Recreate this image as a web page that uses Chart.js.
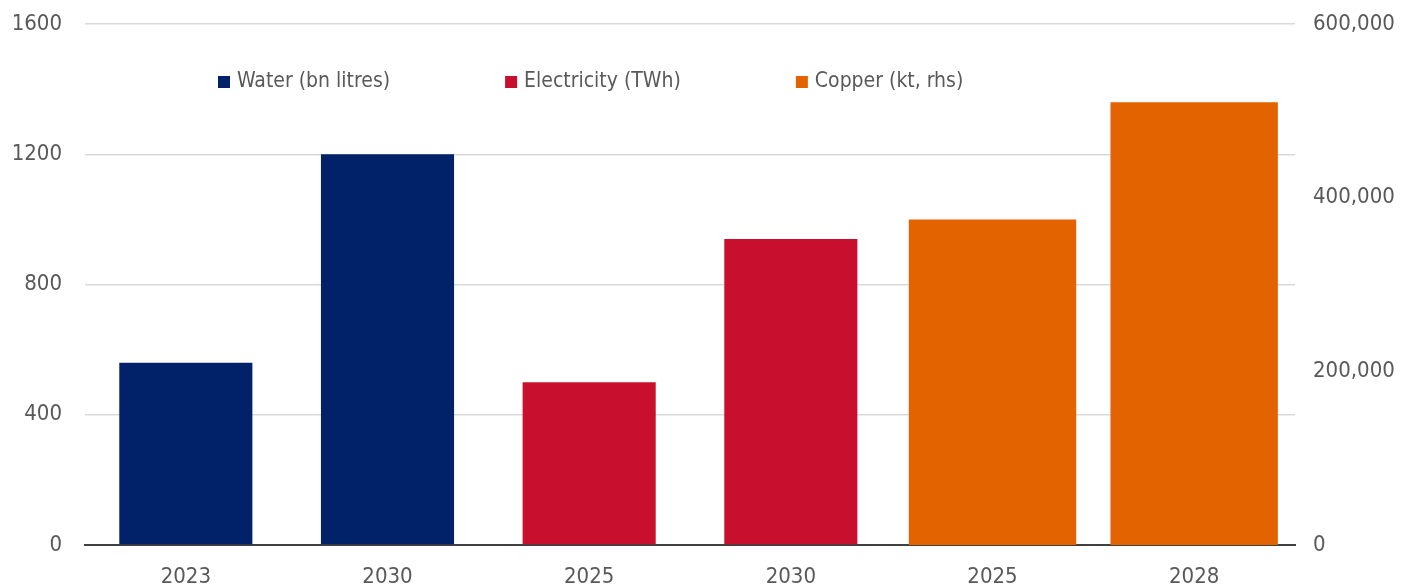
<!DOCTYPE html>
<html>
<head>
<meta charset="utf-8">
<script src="https://cdn.jsdelivr.net/npm/chart.js@4/dist/chart.umd.min.js"></script>
<style>
  html, body { margin: 0; padding: 0; background: #fff; }
  #wrap { width: 1408px; height: 586px; }
</style>
</head>
<body>
<div id="wrap"><canvas id="myChart" width="1408" height="586"></canvas></div>
<script>
var labels = ['2023', '2030', '2025', '2030', '2025', '2028'];
var water = [560, 1200, null, null, null, null];
var electricity = [null, null, 500, 940, null, null];
var copper = [null, null, null, null, 375000, 510000];

var seriesNames = ['Water (bn litres)', 'Electricity (TWh)', 'Copper (kt, rhs)'];
var seriesColors = ['#012169', '#C8102E', '#E36300'];

var fontFamily = '"DejaVu Sans Condensed", "Liberation Sans", sans-serif';
var textColor = '#595959';

// legend drawn inside the plot area, one row under the top gridline
var insideLegend = {
    id: 'insideLegend',
    afterDraw: function(chart) {
        var ctx = chart.ctx;
        var area = chart.chartArea;
        var x = area.left + 133;
        var y = area.top + 58;
        ctx.save();
        ctx.font = '21px ' + fontFamily;
        ctx.textBaseline = 'middle';
        ctx.textAlign = 'left';
        chart.data.datasets.forEach(function(ds) {
            ctx.fillStyle = ds.backgroundColor;
            ctx.fillRect(x, y - 6, 12, 12);
            ctx.fillStyle = textColor;
            ctx.fillText(ds.label, x + 19, y);
            x += 19 + ctx.measureText(ds.label).width + 115;
        });
        ctx.restore();
    }
};

// fixed axis widths; drop the label overhang so the plot starts at the layout padding
function fitSide(width) {
    return function(scale) {
        scale.width = width;
        scale.paddingTop = 0;
        scale.paddingBottom = 0;
    };
}

function showChart() {
    var data = {
        labels: labels,
        datasets: [{
            label: seriesNames[0],
            data: water,
            backgroundColor: seriesColors[0],
            yAxisID: 'y',
            skipNull: true,
            barPercentage: 0.66,
            categoryPercentage: 1
        }, {
            label: seriesNames[1],
            data: electricity,
            backgroundColor: seriesColors[1],
            yAxisID: 'y',
            skipNull: true,
            barPercentage: 0.66,
            categoryPercentage: 1
        }, {
            label: seriesNames[2],
            data: copper,
            backgroundColor: seriesColors[2],
            yAxisID: 'y1',
            skipNull: true,
            barPercentage: 0.83,
            categoryPercentage: 1
        }]
    };
    var options = {
        responsive: false,
        animation: false,
        layout: { padding: { top: 24, bottom: 0, left: 0, right: 0 } },
        plugins: {
            legend: { display: false },
            tooltip: { enabled: false }
        },
        scales: {
            x: {
                grid: { display: false, drawTicks: false },
                border: { display: true, color: '#404040', width: 2 },
                ticks: { color: textColor, padding: 19, font: { family: fontFamily, size: 22 } },
                afterFit: function(scale) { scale.height = 41; }
            },
            y: {
                position: 'left',
                min: 0,
                max: 1600,
                grid: { color: '#d9d9d9', lineWidth: 1.5, drawTicks: false },
                border: { display: false },
                ticks: {
                    stepSize: 400,
                    padding: 23,
                    color: textColor,
                    font: { family: fontFamily, size: 22 },
                    callback: function(v) { return String(v); }
                },
                afterFit: fitSide(85)
            },
            y1: {
                position: 'right',
                min: 0,
                max: 600000,
                grid: { display: false, drawTicks: false },
                border: { display: false },
                ticks: {
                    stepSize: 200000,
                    padding: 18,
                    color: textColor,
                    font: { family: fontFamily, size: 22 },
                    callback: function(v) { return v.toLocaleString('en-US'); }
                },
                afterFit: fitSide(113)
            }
        }
    };
    new Chart(document.getElementById('myChart'), {
        type: 'bar',
        data: data,
        options: options,
        plugins: [insideLegend]
    });
}

showChart();
</script>
</body>
</html>
